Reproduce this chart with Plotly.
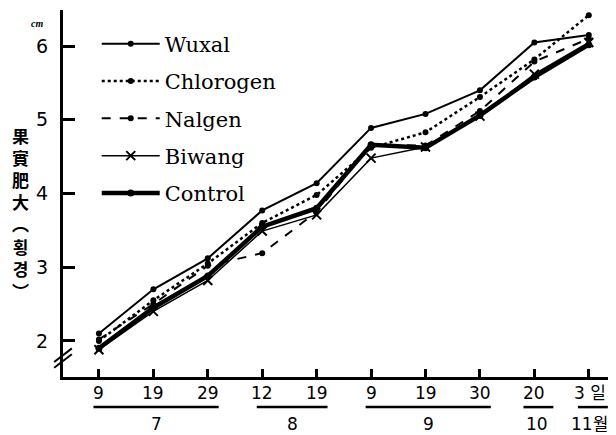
import plotly.graph_objects as go

days = ["9", "19", "29", "12", "19", "9", "19", "30", "20", "3 일"]
months = ["7", "7", "7", "8", "8", "9", "9", "9", "10", "11월"]
y_ticks = [2, 3, 4, 5, 6]

wuxal = [2.10, 2.70, 3.12, 3.77, 4.14, 4.89, 5.08, 5.40, 6.05, 6.15]
chlorogen = [2.00, 2.55, 3.05, 3.60, 3.98, 4.62, 4.83, 5.31, 5.82, 6.42]
nalgen = [2.02, 2.50, 3.02, 3.19, 3.75, 4.66, 4.65, 5.12, 5.79, 6.10]
biwang = [1.88, 2.40, 2.82, 3.49, 3.71, 4.48, 4.63, 5.05, 5.62, 6.05]
control = [1.90, 2.45, 2.88, 3.55, 3.80, 4.66, 4.62, 5.06, 5.58, 6.02]

series = [
    ("Wuxal", wuxal, dict(width=2, dash="solid"), dict(symbol="circle", size=6)),
    ("Chlorogen", chlorogen, dict(width=2.5, dash="dot"), dict(symbol="circle", size=6)),
    ("Nalgen", nalgen, dict(width=2, dash="dash"), dict(symbol="circle", size=6)),
    ("Biwang", biwang, dict(width=1.5, dash="solid"), dict(symbol="x-thin", size=9, line=dict(width=2, color="black"))),
    ("Control", control, dict(width=4.5, dash="solid"), dict(symbol="circle", size=7)),
]

x_idx = list(range(len(days)))
fig = go.Figure()
for i, (name, vals, ln, mk) in enumerate(series):
    fig.add_trace(go.Scatter(
        x=x_idx, y=vals, name=name, mode="lines+markers",
        line=dict(color="black", **ln), marker=dict(color="black", **mk),
        legendgroup=str(i),
    ))

tick_font = dict(family="DejaVu Sans, Noto Sans CJK KR", size=17, color="black")
annotations = []
# day tick labels
for i, d in enumerate(days):
    last = i == len(days) - 1
    annotations.append(dict(x=i, y=0, xref="x", yref="paper", text=d, showarrow=False,
                            yanchor="top", yshift=-4, xanchor="center",
                            xshift=1 if last else 0, font=tick_font))
shapes = []
# month groups
groups = []
for i, m in enumerate(months):
    if groups and groups[-1][0] == m:
        groups[-1][1].append(i)
    else:
        groups.append((m, [i]))
for m, idxs in groups:
    lo, hi = min(idxs), max(idxs)
    if lo != hi:
        x0, x1 = lo - 0.1, hi + 0.2
    else:
        x0, x1 = lo - 0.2, hi + 0.35
    shapes.append(dict(type="line", xref="x", yref="paper", x0=x0, x1=x1,
                       y0=-0.082, y1=-0.082, line=dict(color="black", width=2.5)))
    last = m == months[-1]
    annotations.append(dict(x=(lo + hi) / 2 + (0 if last else 0.05), y=-0.095,
                            xref="x", yref="paper", text=m, showarrow=False, yanchor="top",
                            xanchor="center", xshift=1 if last else 0, font=tick_font))

# axis break marks
for dy in (0, 0.016):
    shapes.append(dict(type="line", xref="paper", yref="paper", x0=-0.016, x1=0.016,
                       y0=0.025 + dy, y1=0.062 + dy, line=dict(color="black", width=2)))

# unit and y title
annotations.append(dict(x=0, y=0.962, xref="paper", yref="paper", text="<i><b>cm</b></i>",
                        showarrow=False, xanchor="right", yanchor="middle", xshift=-18,
                        font=dict(family="Liberation Serif", size=10, color="black")))
annotations.append(dict(x=0, y=0.448, xref="paper", yref="paper",
                        text="<b>果<br>實<br>肥<br>大<br>︵<br>횡<br>경<br>︶</b>",
                        showarrow=False, xanchor="center", yanchor="middle", xshift=-43,
                        font=dict(family="Noto Sans CJK KR", size=17, color="black")))

# page body adds an 8px margin, so the figure is 8px smaller than the window
fig.update_layout(
    width=608, height=427,
    margin=dict(l=55, r=0, t=2, b=58),
    paper_bgcolor="white", plot_bgcolor="white",
    showlegend=True,
    legend=dict(x=0.061, y=0.963, xanchor="left", yanchor="top",
                font=dict(family="DejaVu Serif", size=21, color="black"),
                bgcolor="rgba(0,0,0,0)", tracegroupgap=7, itemwidth=58),
    xaxis=dict(range=[-0.66, 9.5], showgrid=False, zeroline=False, showline=True,
               linecolor="black", linewidth=3, ticks="inside", ticklen=8, tickwidth=2.5,
               tickcolor="black", tickvals=x_idx, showticklabels=False),
    yaxis=dict(range=[1.51, 6.49], showgrid=False, zeroline=False, showline=True,
               linecolor="black", linewidth=3, ticks="inside", ticklen=12, tickwidth=2.5,
               tickcolor="black", tickvals=y_ticks, ticktext=[str(v) for v in y_ticks],
               ticklabelstandoff=8,
               tickfont=dict(family="DejaVu Sans", size=19, color="black")),
    annotations=annotations, shapes=shapes,
)
fig.write_html("out.html")
